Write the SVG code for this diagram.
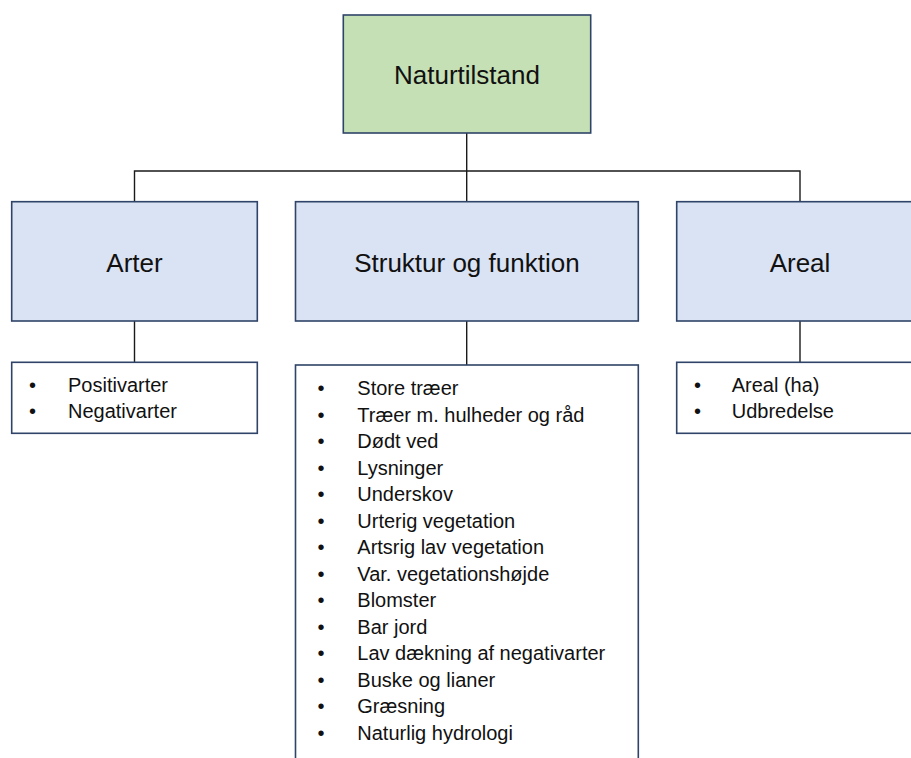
<svg xmlns="http://www.w3.org/2000/svg" width="911" height="758" viewBox="0 0 911 758">
  <style>
    .box { stroke: #2F4468; stroke-width: 1.6; }
    .top { fill: #C5E0B4; }
    .hdr { fill: #DAE3F3; }
    .lst { fill: #FFFFFF; }
    .conn { fill: none; stroke: #1A1A1A; stroke-width: 1.4; }
    .ht { font-family: "Liberation Sans", Arial, sans-serif; font-size: 26px; fill: #111; text-anchor: middle; }
    .lt { font-family: "Liberation Sans", Arial, sans-serif; font-size: 20px; fill: #111; }
  </style>
  <rect width="911" height="758" fill="#FFFFFF"/>
  <g id="connectors">
    <path class="conn" d="M466.7 133 V201.7 M134.5 201.7 V171 H800 V201.7"/>
    <path class="conn" d="M134.5 321 V362.3 M466.7 321 V365 M800 321 V362.3"/>
  </g>
  <g id="naturtilstand">
    <rect class="box top" x="343.3" y="15" width="247.4" height="118"/>
    <text class="ht" x="467" y="84">Naturtilstand</text>
  </g>
  <g id="arter">
    <rect class="box hdr" x="11.7" y="201.7" width="245.6" height="119.3"/>
    <text class="ht" x="134.5" y="272">Arter</text>
  </g>
  <g id="struktur">
    <rect class="box hdr" x="295.5" y="201.7" width="342.8" height="119.3"/>
    <text class="ht" x="466.9" y="272">Struktur og funktion</text>
  </g>
  <g id="areal">
    <rect class="box hdr" x="676.7" y="201.7" width="246.6" height="119.3"/>
    <text class="ht" x="800" y="272">Areal</text>
  </g>
  <g id="arter-liste">
    <rect class="box lst" x="11.7" y="362.3" width="245.6" height="71"/>
    <text class="lt" x="29" y="392">•</text>
    <text class="lt" x="68" y="392">Positivarter</text>
    <text class="lt" x="29" y="417.5">•</text>
    <text class="lt" x="68" y="417.5">Negativarter</text>
  </g>
  <g id="struktur-liste">
    <rect class="box lst" x="295.5" y="365" width="342.8" height="420"/>
    <g class="lt">
      <text x="317.5" y="395">•</text><text x="357.3" y="395">Store træer</text>
      <text x="317.5" y="421.5">•</text><text x="357.3" y="421.5">Træer m. hulheder og råd</text>
      <text x="317.5" y="448">•</text><text x="357.3" y="448">Dødt ved</text>
      <text x="317.5" y="474.5">•</text><text x="357.3" y="474.5">Lysninger</text>
      <text x="317.5" y="501">•</text><text x="357.3" y="501">Underskov</text>
      <text x="317.5" y="527.5">•</text><text x="357.3" y="527.5">Urterig vegetation</text>
      <text x="317.5" y="554">•</text><text x="357.3" y="554">Artsrig lav vegetation</text>
      <text x="317.5" y="580.5">•</text><text x="357.3" y="580.5">Var. vegetationshøjde</text>
      <text x="317.5" y="607">•</text><text x="357.3" y="607">Blomster</text>
      <text x="317.5" y="633.5">•</text><text x="357.3" y="633.5">Bar jord</text>
      <text x="317.5" y="660">•</text><text x="357.3" y="660">Lav dækning af negativarter</text>
      <text x="317.5" y="686.5">•</text><text x="357.3" y="686.5">Buske og lianer</text>
      <text x="317.5" y="713">•</text><text x="357.3" y="713">Græsning</text>
      <text x="317.5" y="739.5">•</text><text x="357.3" y="739.5">Naturlig hydrologi</text>
    </g>
  </g>
  <g id="areal-liste">
    <rect class="box lst" x="676.7" y="362.3" width="246.6" height="71"/>
    <text class="lt" x="694" y="392">•</text>
    <text class="lt" x="731.7" y="392">Areal (ha)</text>
    <text class="lt" x="694" y="417.5">•</text>
    <text class="lt" x="731.7" y="417.5">Udbredelse</text>
  </g>
</svg>
